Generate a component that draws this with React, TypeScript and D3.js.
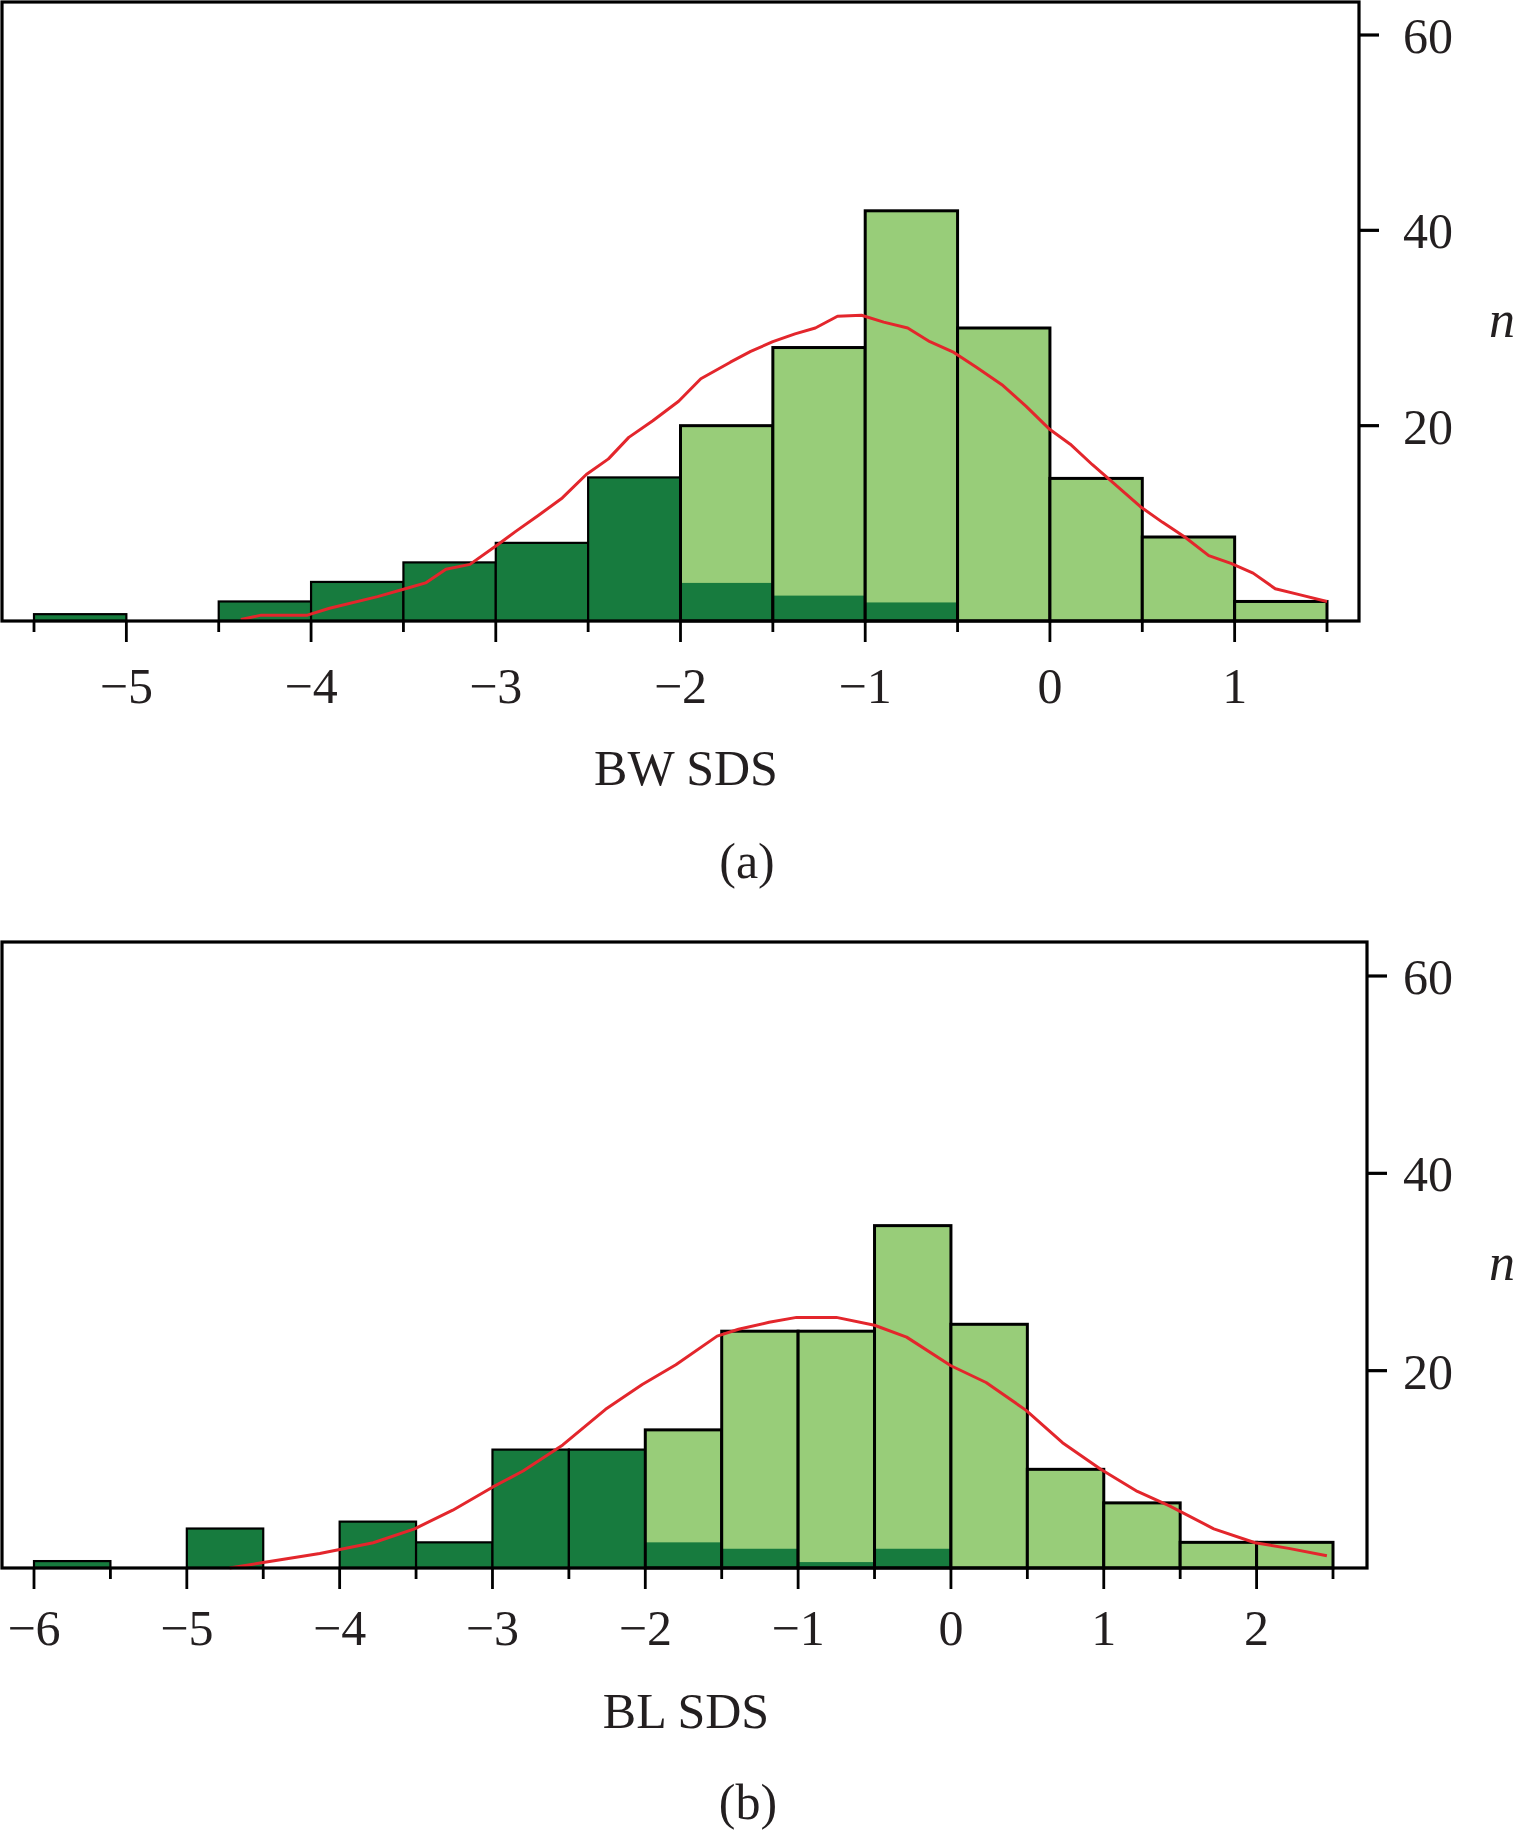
import React from "react";
import * as d3 from "d3";

// ---------- Data ----------
// Panel (a): BW SDS, bins of width 0.5
const binStartsA = [-5.5, -5, -4.5, -4, -3.5, -3, -2.5, -2, -1.5, -1, -0.5, 0, 0.5, 1];
const totalA = [0.7, 0, 2, 4, 6, 8, 14.7, 20, 28, 42, 30, 14.6, 8.6, 2];
const darkA = [0.7, 0, 2, 4, 6, 8, 14.7, 3.9, 2.6, 1.9, 0, 0, 0, 0];
const curveXA = [-4.38, -4.27, -4.02, -3.9, -3.64, -3.49, -3.38, -3.27, -3.14, -2.99, -2.89, -2.77, -2.64, -2.51, -2.39, -2.28, -2.15, -2.01, -1.89, -1.73, -1.62, -1.5, -1.38, -1.27, -1.15, -1.02, -0.9, -0.77, -0.65, -0.52, -0.4, -0.26, -0.13, 0.0, 0.11, 0.23, 0.34, 0.49, 0.61, 0.73, 0.86, 0.98, 1.1, 1.22, 1.35, 1.5];
const curveYA = [0.15, 0.6, 0.6, 1.3, 2.5, 3.3, 3.9, 5.3, 5.8, 7.8, 9.2, 10.8, 12.6, 15.0, 16.6, 18.8, 20.5, 22.5, 24.8, 26.5, 27.6, 28.6, 29.4, 30.0, 31.2, 31.3, 30.6, 30.0, 28.6, 27.5, 26.0, 24.2, 22.0, 19.6, 18.1, 16.0, 14.2, 11.7, 10.1, 8.6, 6.7, 5.9, 4.9, 3.3, 2.7, 2.0];
const majorTicksA = [-5, -4, -3, -2, -1, 0, 1];
const minorTicksA = [-5.5, -4.5, -3.5, -2.5, -1.5, -0.5, 0.5, 1.5];

// Panel (b): BL SDS
const binStartsB = [-6, -5.5, -5, -4.5, -4, -3.5, -3, -2.5, -2, -1.5, -1, -0.5, 0, 0.5, 1, 1.5, 2];
const totalB = [0.7, 0, 4, 0, 4.7, 2.6, 12, 12, 14, 24, 24, 34.7, 24.7, 10, 6.6, 2.6, 2.6];
const darkB = [0.7, 0, 4, 0, 4.7, 2.6, 12, 12, 2.6, 1.95, 0.6, 1.95, 0, 0, 0, 0, 0];
const curveXB = [-4.72, -4.49, -4.13, -3.78, -3.51, -3.26, -3.0, -2.8, -2.54, -2.26, -2.02, -1.8, -1.53, -1.39, -1.19, -1.01, -0.75, -0.5, -0.29, 0.0, 0.23, 0.49, 0.73, 0.98, 1.22, 1.43, 1.72, 1.99, 2.21, 2.46];
const curveYB = [0.0, 0.58, 1.46, 2.56, 3.97, 5.86, 8.19, 9.83, 12.47, 16.08, 18.6, 20.6, 23.5, 24.2, 24.9, 25.4, 25.4, 24.6, 23.4, 20.5, 18.8, 16.0, 12.7, 10.0, 7.76, 6.3, 3.97, 2.56, 1.99, 1.24];
const majorTicksB = [-6, -5, -4, -3, -2, -1, 0, 1, 2];
const minorTicksB = [-5.5, -4.5, -3.5, -2.5, -1.5, -0.5, 0.5, 1.5, 2.5];

const yTicks = [20, 40, 60];
const binWidth = 0.5;

const DARK = "#177b3e";
const LIGHT = "#98cd79";
const RED = "#e3262c";
const FONT = "'Liberation Serif', 'DejaVu Serif', serif";

const fmt = (v: number) => (v < 0 ? "\u2212" + Math.abs(v) : String(v));

type PanelProps = {
  frame: { left: number; top: number; right: number; bottom: number };
  xDomain: [number, number];
  xRange: [number, number];
  yTop: number; // pixel of y=60
  binStarts: number[];
  totals: number[];
  darks: number[];
  curveX: number[];
  curveY: number[];
  majorTicks: number[];
  minorTicks: number[];
  tickLabelBaseline: number;
  xLabel: string;
  xLabelBaseline: number;
  xLabelX: number;
  caption: string;
  captionBaseline: number;
  captionX: number;
  nBaseline: number;
};

function Panel(p: PanelProps) {
  const x = d3.scaleLinear().domain(p.xDomain).range(p.xRange);
  const y = d3.scaleLinear().domain([0, 60]).range([p.frame.bottom, p.yTop]);
  const line = d3
    .line<number>()
    .x((_, i) => x(p.curveX[i]))
    .y((d) => y(d));
  const { left, top, right, bottom } = p.frame;

  return (
    <g>
      {/* bars */}
      {p.binStarts.map((b, i) => {
        const t = p.totals[i];
        if (t <= 0) return null;
        const d = p.darks[i];
        const x0 = x(b);
        const x1 = x(b + binWidth);
        const allDark = d >= t;
        return (
          <g key={"bar" + i}>
            <rect x={x0} y={y(t)} width={x1 - x0} height={y(0) - y(t)} fill={allDark ? DARK : LIGHT} />
            {!allDark && d > 0 && (
              <rect x={x0} y={y(d)} width={x1 - x0} height={y(0) - y(d)} fill={DARK} />
            )}
            <rect
              x={x0}
              y={y(t)}
              width={x1 - x0}
              height={y(0) - y(t)}
              fill="none"
              stroke="#000"
              strokeWidth={allDark ? 2.2 : 3}
            />
          </g>
        );
      })}
      {/* curve */}
      <path d={line(p.curveY) || ""} fill="none" stroke={RED} strokeWidth={3} strokeLinejoin="round" />
      {/* frame */}
      <rect x={left} y={top} width={right - left} height={bottom - top} fill="none" stroke="#000" strokeWidth={3.2} />
      {/* x ticks */}
      {p.majorTicks.map((t) => (
        <line key={"mj" + t} x1={x(t)} x2={x(t)} y1={bottom} y2={bottom + 21} stroke="#000" strokeWidth={2.8} />
      ))}
      {p.minorTicks.map((t) => (
        <line key={"mn" + t} x1={x(t)} x2={x(t)} y1={bottom} y2={bottom + 11} stroke="#000" strokeWidth={2.8} />
      ))}
      {p.majorTicks.map((t) => (
        <text
          key={"ml" + t}
          x={x(t)}
          y={p.tickLabelBaseline}
          textAnchor="middle"
          fontFamily={FONT}
          fontSize={50}
          fill="#231f20"
        >
          {fmt(t)}
        </text>
      ))}
      {/* y ticks on right */}
      {yTicks.map((t) => (
        <g key={"yt" + t}>
          <line x1={right} x2={right + 20} y1={y(t)} y2={y(t)} stroke="#000" strokeWidth={3.2} />
          <text x={1403} y={y(t) + 18} fontFamily={FONT} fontSize={50} fill="#231f20">
            {t}
          </text>
        </g>
      ))}
      <text x={1489} y={p.nBaseline} fontFamily={FONT} fontStyle="italic" fontSize={52} fill="#231f20">
        n
      </text>
      <text x={p.xLabelX} y={p.xLabelBaseline} textAnchor="middle" fontFamily={FONT} fontSize={50} fill="#231f20">
        {p.xLabel}
      </text>
      <text x={p.captionX} y={p.captionBaseline} textAnchor="middle" fontFamily={FONT} fontSize={50} fill="#231f20">
        {p.caption}
      </text>
    </g>
  );
}

export default function App() {
  return (
    <svg
      width={1515}
      height={1833}
      viewBox="0 0 1515 1833"
      style={{ position: "absolute", left: 0, top: 0, background: "#fff" }}
    >
      <rect x={0} y={0} width={1515} height={1833} fill="#fff" />
      <Panel
        frame={{ left: 2, top: 2, right: 1359, bottom: 621 }}
        xDomain={[-5.5, 1.5]}
        xRange={[34, 1327]}
        yTop={35}
        binStarts={binStartsA}
        totals={totalA}
        darks={darkA}
        curveX={curveXA}
        curveY={curveYA}
        majorTicks={majorTicksA}
        minorTicks={minorTicksA}
        tickLabelBaseline={703}
        xLabel="BW SDS"
        xLabelBaseline={785}
        xLabelX={686}
        caption="(a)"
        captionBaseline={878}
        captionX={747}
        nBaseline={337}
      />
      <Panel
        frame={{ left: 2, top: 942, right: 1367, bottom: 1568 }}
        xDomain={[-6, 2.5]}
        xRange={[34, 1333]}
        yTop={976}
        binStarts={binStartsB}
        totals={totalB}
        darks={darkB}
        curveX={curveXB}
        curveY={curveYB}
        majorTicks={majorTicksB}
        minorTicks={minorTicksB}
        tickLabelBaseline={1645}
        xLabel="BL SDS"
        xLabelBaseline={1728}
        xLabelX={686}
        caption="(b)"
        captionBaseline={1819}
        captionX={748}
        nBaseline={1280}
      />
    </svg>
  );
}
